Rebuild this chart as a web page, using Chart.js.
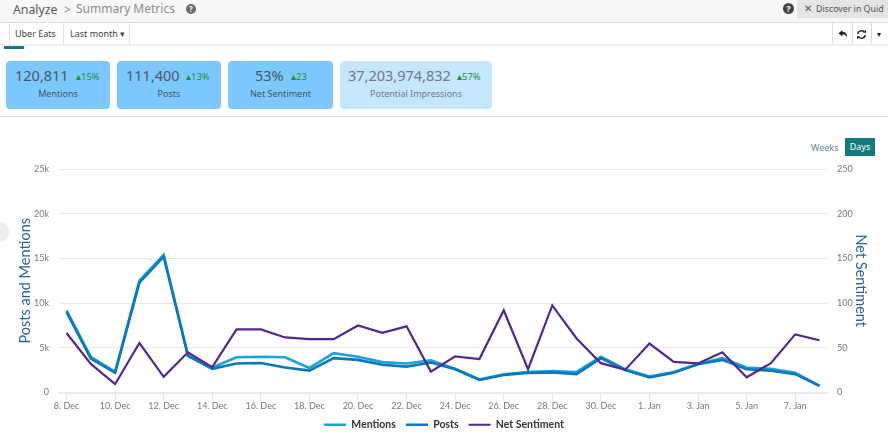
<!DOCTYPE html>
<html>
<head>
<meta charset="utf-8">
<script src="https://cdn.jsdelivr.net/npm/chart.js@4/dist/chart.umd.min.js"></script>
<style>
html, body { margin: 0; padding: 0; background: #fff; overflow: hidden; }
body { width: 888px; height: 440px; position: relative; font-family: "Noto Sans", sans-serif; color: #4a4a4a; }
.abs { position: absolute; white-space: nowrap; }
.card { position: absolute; top: 61px; height: 48px; background: #7cc8ff; border-radius: 4px; text-align: center; }
.card.light { background: #c5e7ff; }
.big { position: absolute; top: 4px; font-size: 14.5px; color: #4a5560; line-height: 20px; white-space: nowrap; }
.delta { position: absolute; top: 9px; font-size: 9.5px; color: #1c8f3c; line-height: 14px; white-space: nowrap; }
.sub { position: absolute; left: 0; right: 0; top: 26px; font-size: 9px; color: #47525c; line-height: 14px; }
</style>
</head>
<body>
<!-- barra superior -->
<div class="abs" style="left:0;top:0;width:888px;height:22px;background:#f8f8f8;border-bottom:1px solid #dedede"></div>
<div class="abs" style="left:13px;top:1px;font-size:12.3px;line-height:18px;color:#555">Analyze</div>
<div class="abs" style="left:64px;top:1px;font-size:12px;line-height:18px;color:#888">&gt;</div>
<div class="abs" style="left:76px;top:0;font-size:12px;line-height:18px;color:#8a8a8a">Summary Metrics</div>
<div class="abs" style="left:186px;top:4px;width:10px;height:10px;border-radius:50%;background:#666;color:#fff;font-size:8px;line-height:10px;text-align:center;font-weight:bold">?</div>
<div class="abs" style="left:783px;top:3px;width:11px;height:11px;border-radius:50%;background:#444;color:#fff;font-size:9px;line-height:11px;text-align:center;font-weight:bold">?</div>
<div class="abs" style="left:797px;top:0;width:91px;height:18px;background:#e4e4e4"></div>
<div class="abs" style="left:804px;top:1px;font-size:9.5px;line-height:16px;color:#555">✕</div>
<div class="abs" style="left:816px;top:1px;font-size:8.8px;line-height:16px;color:#555">Discover in Quid</div>

<!-- fila de filtros -->
<div class="abs" style="left:0;top:44px;width:888px;height:2px;background:#eeeeee"></div>
<div class="abs" style="left:4px;top:46px;width:20px;height:3px;background:#137a7f"></div>
<div class="abs" style="left:9px;top:23px;width:1px;height:21px;background:#e2e2e2"></div>
<div class="abs" style="left:63px;top:23px;width:1px;height:21px;background:#e2e2e2"></div>
<div class="abs" style="left:129px;top:23px;width:1px;height:21px;background:#e2e2e2"></div>
<div class="abs" style="left:15px;top:26px;font-size:9px;line-height:15px;color:#444">Uber Eats</div>
<div class="abs" style="left:70px;top:26px;font-size:9px;line-height:15px;color:#444">Last month ▾</div>
<div class="abs" style="left:832px;top:23px;width:1px;height:21px;background:#dcdcdc"></div>
<div class="abs" style="left:852px;top:23px;width:1px;height:21px;background:#dcdcdc"></div>
<div class="abs" style="left:871px;top:23px;width:1px;height:21px;background:#dcdcdc"></div>
<svg class="abs" style="left:838px;top:29px" width="10" height="10" viewBox="0 0 10 10"><path d="M4.5 1 L0.5 4.2 L4.5 7.4 V5.2 C6.8 5.2 8 6.2 8.8 8.8 C9.4 5 7.6 3 4.5 3 Z" fill="#222"/></svg>
<svg class="abs" style="left:856px;top:29px" width="11" height="11" viewBox="0 0 11 11"><path d="M1.6 5 A4 4 0 0 1 8.4 3 M9.4 6 A4 4 0 0 1 2.6 8" fill="none" stroke="#222" stroke-width="1.4"/><path d="M7 3.8 H10 V0.8 Z M4 7.2 H1 V10.2 Z" fill="#222"/></svg>
<div class="abs" style="left:877px;top:27px;font-size:8px;line-height:14px;color:#222">▾</div>

<!-- tarjetas -->
<div class="card" style="left:6px;width:104px">
  <div class="big" style="left:9px">120,811</div><div class="delta" style="left:70px">▴15%</div><div class="sub">Mentions</div>
</div>
<div class="card" style="left:117px;width:104px">
  <div class="big" style="left:9px">111,400</div><div class="delta" style="left:69px">▴13%</div><div class="sub">Posts</div>
</div>
<div class="card" style="left:228px;width:105px">
  <div class="big" style="left:27px">53%</div><div class="delta" style="left:63px">▴23</div><div class="sub">Net Sentiment</div>
</div>
<div class="card light" style="left:340px;width:152px">
  <div class="big" style="left:8px;color:#6f7a84">37,203,974,832</div><div class="delta" style="left:117px">▴57%</div><div class="sub" style="color:#6f7a84">Potential Impressions</div>
</div>
<div class="abs" style="left:0;top:116px;width:888px;height:1px;background:#d8d8d8"></div>

<!-- botones -->
<div class="abs" style="left:811px;top:140px;font-size:9px;line-height:15px;color:#5f8a94">Weeks</div>
<div class="abs" style="left:845px;top:138px;width:30px;height:18px;background:#137a7f;color:#fff;font-size:9px;line-height:18px;text-align:center">Days</div>
<div class="abs" style="left:-9px;top:222px;width:18px;height:20px;border-radius:50%;background:#eeeeee"></div>

<div class="abs" style="left:0;top:130px;width:888px;height:310px">
  <canvas id="grafica" width="888" height="310"></canvas>
</div>

<script>
// Datos
const dias = ['8. Dec','9. Dec','10. Dec','11. Dec','12. Dec','13. Dec','14. Dec','15. Dec','16. Dec','17. Dec','18. Dec','19. Dec','20. Dec','21. Dec','22. Dec','23. Dec','24. Dec','25. Dec','26. Dec','27. Dec','28. Dec','29. Dec','30. Dec','31. Dec','1. Jan','2. Jan','3. Jan','4. Jan','5. Jan','6. Jan','7. Jan','8. Jan'];
const mentions = [9200,4000,2300,12500,15400,4150,2800,3950,4000,3950,2750,4400,4000,3400,3250,3600,2650,1450,2050,2300,2400,2300,4000,2600,1800,2300,3200,3850,2800,2650,2200,750];
const posts = [9000,3800,2200,12300,15200,4100,2650,3250,3300,2800,2450,3850,3650,3100,2900,3350,2600,1400,1950,2200,2250,2050,3850,2500,1700,2200,3150,3650,2600,2450,2050,750];
const netSentiment = [66.5,32,9.3,55.3,17.5,45,28.4,70.6,70.6,61.6,59.6,59.6,75,66.8,74,23.4,40.4,37.4,92,26,97.4,60.4,32.8,25.3,54.7,34.3,32.5,45,17,32.8,65,58.5];

const puntos = (serie) => serie.map((v, i) => ({ x: i, y: v }));

const ctx = document.getElementById('grafica').getContext('2d');
new Chart(ctx, {
    type: 'line',
    data: {
        datasets: [
            { label: 'Mentions', data: puntos(mentions), yAxisID: 'y', order: 3, borderColor: '#1ba3dc', backgroundColor: '#1ba3dc', borderWidth: 2.6, pointRadius: 0, tension: 0 },
            { label: 'Posts', data: puntos(posts), yAxisID: 'y', order: 2, borderColor: '#0a78ba', backgroundColor: '#0a78ba', borderWidth: 2.6, pointRadius: 0, tension: 0 },
            { label: 'Net Sentiment', data: puntos(netSentiment), yAxisID: 'y2', order: 1, borderColor: '#52278f', backgroundColor: '#52278f', borderWidth: 2.2, pointRadius: 0, tension: 0 }
        ]
    },
    options: {
        responsive: false,
        animation: false,
        layout: { padding: { top: 39 } },
        plugins: {
            tooltip: { enabled: false },
            legend: {
                position: 'bottom',
                labels: {
                    usePointStyle: true,
                    pointStyle: 'line',
                    pointStyleWidth: 22,
                    padding: 10,
                    color: '#333',
                    font: { family: 'Lato', size: 10.5, weight: 'bold' },
                    // el orden de dibujo no debe cambiar la leyenda
                    sort: (a, b) => a.datasetIndex - b.datasetIndex
                }
            }
        },
        scales: {
            x: {
                type: 'linear',
                min: -0.31,
                max: 31.31,
                afterFit: (s) => { s.height = 17; },
                grid: { drawOnChartArea: false, tickLength: 8, color: '#dfe6f2' },
                border: { color: '#e6ebf3', width: 2 },
                ticks: {
                    stepSize: 2,
                    includeBounds: false,
                    maxRotation: 0,
                    autoSkip: false,
                    padding: 0,
                    color: '#777',
                    font: { family: 'Lato', size: 9 },
                    callback: (v) => dias[v]
                }
            },
            y: {
                position: 'left',
                min: 0,
                max: 25000,
                afterFit: (s) => { s.width = 59; },
                grid: { color: '#e8e8e8', drawTicks: false },
                border: { display: false },
                ticks: {
                    stepSize: 5000,
                    padding: 10,
                    color: '#777',
                    font: { family: 'Lato', size: 9 },
                    callback: (v) => v === 0 ? '0' : (v / 1000) + 'k'
                },
                title: { display: true, text: 'Posts and Mentions', color: '#2a64a0', padding: 17, font: { family: 'Lato', size: 14.5 } }
            },
            y2: {
                position: 'right',
                min: 0,
                max: 250,
                afterFit: (s) => { s.width = 61; },
                grid: { drawOnChartArea: false, drawTicks: false },
                border: { display: false },
                ticks: {
                    stepSize: 50,
                    padding: 10,
                    color: '#777',
                    font: { family: 'Lato', size: 9 }
                },
                title: { display: true, text: 'Net Sentiment', color: '#2a64a0', padding: 19, font: { family: 'Lato', size: 14.5 } }
            }
        }
    }
});
</script>
</body>
</html>
